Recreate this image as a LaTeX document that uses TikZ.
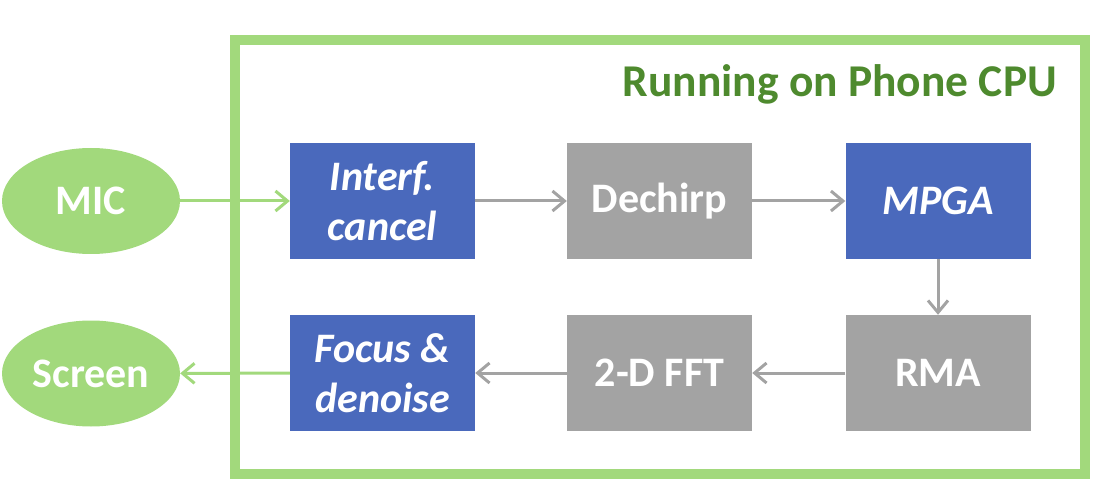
\documentclass[tikz,border=0pt]{standalone}
\usepackage{fontspec}
\setmainfont{Carlito}
\usetikzlibrary{arrows.meta,shapes.geometric}
\definecolor{boxblue}{HTML}{4A69BC}
\definecolor{boxgray}{HTML}{A3A3A3}
\definecolor{lgreen}{HTML}{A2D97C}
\definecolor{dgreen}{HTML}{4E8A2E}
\tikzset{
  x=1pt,y=-1pt,
  base/.style={minimum width=185pt,minimum height=116pt,inner sep=0pt,text=white,align=center,
    font=\fontsize{42}{50}\selectfont\bfseries},
  bluebox/.style={base,fill=boxblue,font=\fontsize{42}{50}\selectfont\bfseries\itshape},
  graybox/.style={base,fill=boxgray},
  ioell/.style={ellipse,fill=lgreen,minimum width=178pt,minimum height=106pt,inner sep=0pt,text=white,
    font=\fontsize{42}{50}\selectfont\bfseries},
  grayarrow/.style={draw=boxgray,line width=3pt,-{Straight Barb[length=12pt,width=20pt,line width=3pt]}},
  greenarrow/.style={draw=lgreen,line width=3pt,-{Straight Barb[length=12pt,width=20pt,line width=3pt]}},
}
\begin{document}
\begin{tikzpicture}
\useasboundingbox (0,0) rectangle (1109,497);
\node[draw=lgreen,line width=10pt,minimum width=850pt,minimum height=434pt,inner sep=0pt] (frame) at (659.5,257) {};
\node[anchor=base east,text=dgreen,font=\fontsize{45.5}{54}\selectfont\bfseries,inner sep=0pt] (title) at (1057,97) {Running on Phone CPU};
\node[ioell] (mic) at (91,201) {MIC};
\node[ioell] (screen) at (91,373.5) {Screen};
\node[bluebox] (interf) at (382.5,201) {Interf.\\cancel};
\node[graybox] (dechirp) at (659.5,201) {Dechirp};
\node[bluebox] (mpga) at (938,201) {MPGA};
\node[bluebox] (focus) at (382.5,373) {Focus \&\\denoise};
\node[graybox] (fft) at (659.5,373) {2-D FFT};
\node[graybox] (rma) at (938,373) {RMA};
\draw[greenarrow] (mic) -- (interf);
\draw[grayarrow] (interf) -- (dechirp);
\draw[grayarrow] (dechirp) -- (mpga);
\draw[grayarrow] (mpga) -- (rma);
\draw[grayarrow] (rma) -- (fft);
\draw[grayarrow] (fft) -- (focus);
\draw[greenarrow] (focus) -- (screen);
\end{tikzpicture}
\end{document}
